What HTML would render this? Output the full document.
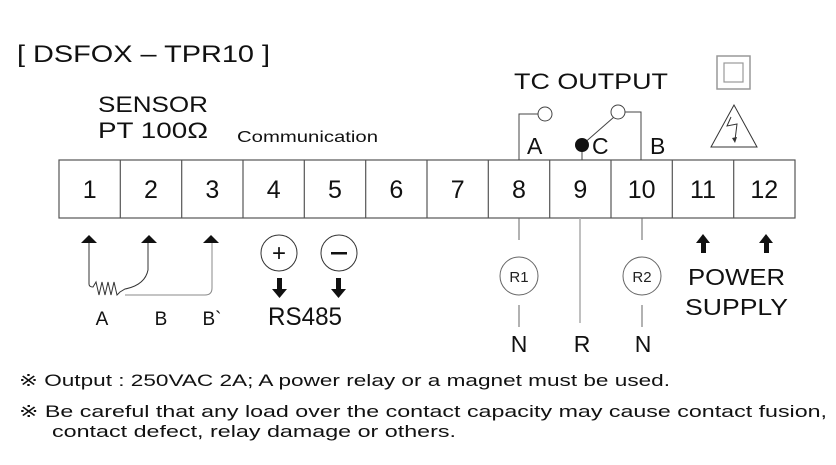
<!DOCTYPE html>
<html><head><meta charset="utf-8"><style>
html,body{margin:0;padding:0;background:#fff;}
svg{display:block;font-family:"Liberation Sans",sans-serif;}
</style></head><body>
<svg width="836" height="465" viewBox="0 0 836 465" xmlns="http://www.w3.org/2000/svg">
<text x="17" y="62" font-size="24" fill="#111" textLength="253" lengthAdjust="spacingAndGlyphs">[ DSFOX – TPR10 ]</text>
<text x="98" y="112" font-size="22" fill="#111" textLength="110" lengthAdjust="spacingAndGlyphs">SENSOR</text>
<text x="98" y="138" font-size="22" fill="#111" textLength="110" lengthAdjust="spacingAndGlyphs">PT 100Ω</text>
<text x="237" y="142" font-size="16" fill="#111" textLength="141" lengthAdjust="spacingAndGlyphs">Communication</text>
<text x="514" y="89" font-size="22" fill="#111" textLength="154" lengthAdjust="spacingAndGlyphs">TC OUTPUT</text>
<rect x="717" y="56" width="33" height="33" fill="none" stroke="#999" stroke-width="1.5"/>
<rect x="724" y="63" width="19" height="19" fill="none" stroke="#999" stroke-width="1.2"/>
<polygon points="734,105 711,147 757,147" fill="none" stroke="#333" stroke-width="1"/>
<polyline points="731,117 727,126 737,124 735,140" fill="none" stroke="#333" stroke-width="1"/>
<polygon points="732,138 735,143 737,137" fill="#333"/>
<g stroke="#555" stroke-width="1.2" fill="none">
<rect x="59" y="160" width="736" height="58"/>
<line x1="120.3" y1="160" x2="120.3" y2="218"/><line x1="181.7" y1="160" x2="181.7" y2="218"/>
<line x1="243" y1="160" x2="243" y2="218"/><line x1="304.3" y1="160" x2="304.3" y2="218"/>
<line x1="365.7" y1="160" x2="365.7" y2="218"/><line x1="427" y1="160" x2="427" y2="218"/>
<line x1="488.3" y1="160" x2="488.3" y2="218"/><line x1="549.7" y1="160" x2="549.7" y2="218"/>
<line x1="611" y1="160" x2="611" y2="218"/><line x1="672.3" y1="160" x2="672.3" y2="218"/>
<line x1="733.7" y1="160" x2="733.7" y2="218"/>
</g>
<g font-size="25" fill="#111" text-anchor="middle">
<text x="89.7" y="198">1</text><text x="151" y="198">2</text><text x="212.3" y="198">3</text>
<text x="273.7" y="198">4</text><text x="335" y="198">5</text><text x="396.3" y="198">6</text>
<text x="457.7" y="198">7</text><text x="519" y="198">8</text><text x="580.3" y="198">9</text>
<text x="641.7" y="198">10</text><text x="703" y="198">11</text><text x="764.3" y="198">12</text>
</g>
<g fill="#111">
<polygon points="89,235 81,243 97,243"/><polygon points="149,235 141,243 157,243"/><polygon points="211,235 203,243 219,243"/>
</g>
<g stroke="#333" stroke-width="1" fill="none">
<path d="M89,243 V284 Q89,287 93,287 L96,282 L99,295 L102,282 L105,295 L108,282 L111,295 L114,282 L117,295 L120,292 L125,289 Q145,285 148,270 V243"/>
<path d="M125,295 H205 Q212,295 212,288 V243" stroke="#888"/>
</g>
<g font-size="19" fill="#111" text-anchor="middle">
<text x="102" y="325">A</text><text x="161" y="325">B</text><text x="212" y="325">B`</text>
</g>
<g stroke="#333" stroke-width="1" fill="none">
<circle cx="279" cy="253" r="18"/><circle cx="339" cy="253" r="18"/>
</g>
<text x="279" y="261" font-size="24" text-anchor="middle" fill="#111">+</text>
<rect x="331" y="252" width="16" height="2.5" fill="#111"/>
<g fill="#111">
<rect x="277" y="278" width="5" height="12"/><polygon points="272,289 287,289 279.5,298"/>
<rect x="336" y="278" width="5" height="12"/><polygon points="331,289 346,289 338.5,298"/>
</g>
<text x="268" y="325" font-size="25" fill="#111" textLength="74" lengthAdjust="spacingAndGlyphs">RS485</text>
<g stroke="#444" stroke-width="1" fill="none">
<polyline points="519,160 519,114 538,114"/>
<circle cx="545" cy="114" r="7" fill="#fff"/>
<line x1="582" y1="145" x2="582" y2="160"/>
<line x1="582" y1="145" x2="614" y2="117"/>
<circle cx="618" cy="112" r="7" fill="#fff"/>
<polyline points="625,112 641,112 641,160"/>
</g>
<circle cx="582" cy="145" r="7" fill="#111"/>
<g font-size="23" fill="#111">
<text x="527" y="154">A</text><text x="592" y="154">C</text><text x="650" y="154">B</text>
</g>
<g stroke="#666" stroke-width="1" fill="none">
<line x1="519" y1="218" x2="519" y2="240"/><line x1="519" y1="305" x2="519" y2="327"/>
<circle cx="519" cy="276" r="19"/>
<line x1="642" y1="218" x2="642" y2="240"/><line x1="642" y1="305" x2="642" y2="327"/>
<circle cx="642" cy="276" r="19"/>
<line x1="580" y1="218" x2="580" y2="323" stroke="#aaa" stroke-width="1.5"/>
</g>
<g font-size="15" fill="#222" text-anchor="middle">
<text x="519" y="282">R1</text><text x="642" y="282">R2</text>
</g>
<g font-size="23" fill="#111" text-anchor="middle">
<text x="519" y="352">N</text><text x="582" y="352">R</text><text x="643" y="352">N</text>
</g>
<g fill="#111">
<polygon points="703,234 696,243 710,243"/><polygon points="766,234 759,243 773,243"/>
<rect x="701" y="242" width="5" height="11"/><rect x="764" y="242" width="5" height="11"/>
</g>
<g font-size="23" fill="#111">
<text x="688" y="285" textLength="97" lengthAdjust="spacingAndGlyphs">POWER</text>
<text x="685" y="315" textLength="103" lengthAdjust="spacingAndGlyphs">SUPPLY</text>
</g>
<g font-size="17" fill="#111">
<text x="19" y="386" textLength="651" lengthAdjust="spacingAndGlyphs">※ Output : 250VAC 2A; A power relay or a magnet must be used.</text>
<text x="19" y="417" textLength="808" lengthAdjust="spacingAndGlyphs">※ Be careful that any load over the contact capacity may cause contact fusion,</text>
<text x="52" y="437" textLength="404" lengthAdjust="spacingAndGlyphs">contact defect, relay damage or others.</text>
</g>
</svg>
</body></html>
